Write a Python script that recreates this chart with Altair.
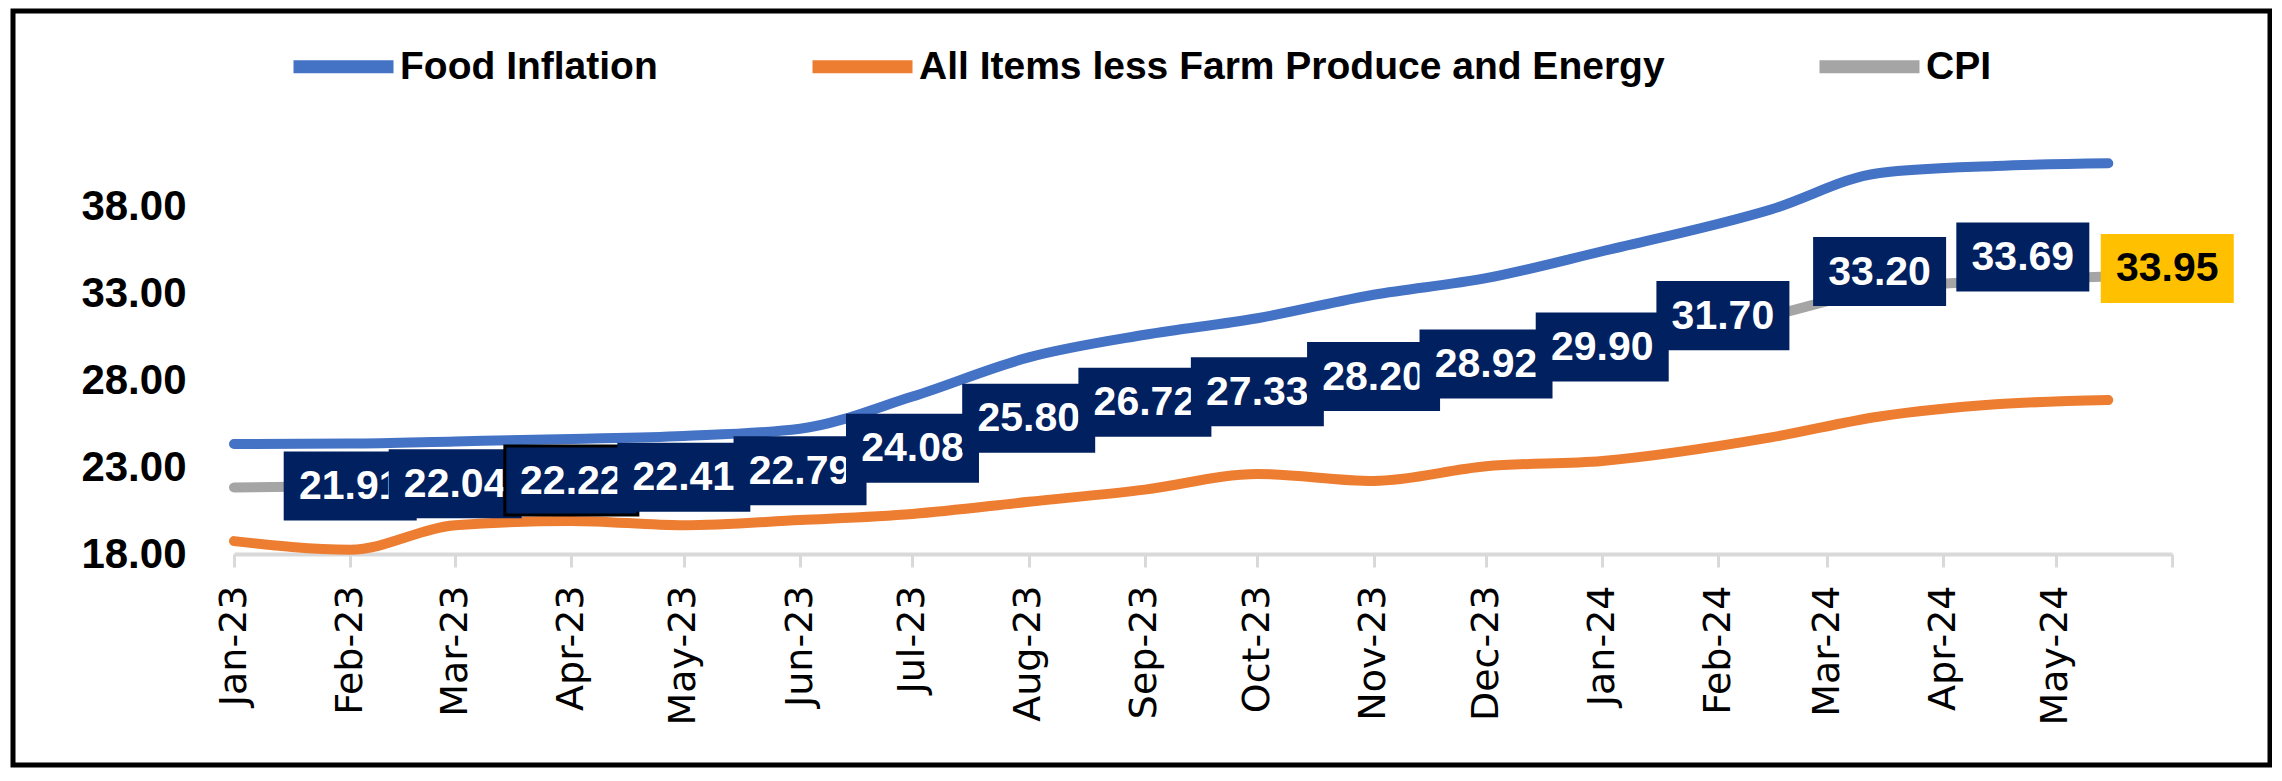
import altair as alt
import pandas as pd

# ---- data ----
dates = [
    "2023-01-01T00:00:00", "2023-02-01T00:00:00", "2023-03-01T00:00:00",
    "2023-04-01T00:00:00", "2023-05-01T00:00:00", "2023-06-01T00:00:00",
    "2023-07-01T00:00:00", "2023-08-01T00:00:00", "2023-09-01T00:00:00",
    "2023-10-01T00:00:00", "2023-11-01T00:00:00", "2023-12-01T00:00:00",
    "2024-01-01T00:00:00", "2024-02-15T00:00:00", "2024-03-15T00:00:00",
    "2024-04-15T00:00:00", "2024-05-15T00:00:00",
]
food = [24.32, 24.35, 24.47, 24.61, 24.78, 25.20, 27.05, 29.30, 30.60, 31.55,
        32.90, 33.85, 35.40, 37.80, 39.90, 40.30, 40.45]
core = [18.74, 18.25, 19.65, 19.90, 19.65, 19.95, 20.30, 21.00, 21.70, 22.60,
        22.20, 23.04, 23.35, 24.70, 25.90, 26.60, 26.85]
cpi = [21.82, 21.91, 22.04, 22.22, 22.41, 22.79, 24.08, 25.80, 26.72, 27.33,
       28.20, 28.92, 29.90, 31.70, 33.20, 33.69, 33.95]

series_names = ["Food Inflation", "All Items less Farm Produce and Energy", "CPI"]
series_colors = ["#4472C4", "#ED7D31", "#A5A5A5"]

tick_dates = [
    (2023, 1), (2023, 2), (2023, 3), (2023, 4), (2023, 5), (2023, 6),
    (2023, 7), (2023, 8), (2023, 9), (2023, 10), (2023, 11), (2023, 12),
    (2024, 1), (2024, 2), (2024, 3), (2024, 4), (2024, 5), (2024, 6),
]
y_ticks = [18, 23, 28, 33, 38]
y_domain = [18, 43]

# ---- tables ----
rows = []
for name, vals in zip(series_names, [food, core, cpi]):
    for d, v in zip(dates, vals):
        rows.append({"date": d, "value": v, "series": name})
df = pd.DataFrame(rows)

lab_df = pd.DataFrame({
    "date": dates,
    "value": cpi,
    "text": [f"{v:.2f}" for v in cpi],
    "idx": list(range(len(cpi))),
})

tick_dt = [alt.DateTime(year=y, month=m, date=1) for y, m in tick_dates]

x_enc = alt.X(
    "date:T",
    scale=alt.Scale(domain=[tick_dt[0], tick_dt[-1]], nice=False),
    axis=alt.Axis(
        values=tick_dt, format="%b-%y",
        labelExpr="datum.label == 'Jun-24' ? '' : datum.label",
        labelAngle=270, labelFont="DejaVu Sans", labelFontSize=38,
        labelColor="black", labelPadding=18, labelOverlap=False,
        labelFlush=False, labelBound=False,
        domainColor="#D9D9D9", domainWidth=4,
        tickColor="#D9D9D9", tickWidth=3, tickSize=13,
        grid=False, title=None,
    ),
)
y_enc = alt.Y(
    "value:Q",
    scale=alt.Scale(domain=y_domain, nice=False, zero=False),
    axis=alt.Axis(
        values=y_ticks, format=".2f", labelFont="Liberation Sans",
        labelFontWeight="bold", labelFontSize=42, labelColor="black",
        labelPadding=48, domain=False, ticks=False, grid=False, title=None,
    ),
)

frame = alt.Chart(pd.DataFrame({"a": [0]})).mark_rect(
    fillOpacity=0, stroke="black", strokeWidth=5
).encode(
    x=alt.value(-221), x2=alt.value(2036), y=alt.value(-108), y2=alt.value(646)
)

lines = alt.Chart(df).mark_line(
    strokeWidth=10, strokeCap="round", interpolate="monotone"
).encode(
    x=x_enc,
    y=y_enc,
    color=alt.Color(
        "series:N",
        scale=alt.Scale(domain=series_names, range=series_colors),
        legend=alt.Legend(title=None),
    ),
    detail="series:N",
)

BOX = "M-1,-0.519L1,-0.519L1,0.519L-1,0.519Z"
offsets = {13: (-48, 0), 14: (0, -18), 15: (27, -24), 16: (59, -8)}

label_layers = []
for i in range(1, len(cpi)):
    dx, dy = offsets.get(i, (0, 0))
    last = i == len(cpi) - 1
    fill = "#FFC000" if last else "#002060"
    tcol = "black" if last else "white"
    box_kw = dict(stroke="black", strokeWidth=3) if i == 3 else dict(strokeWidth=0)
    base = alt.Chart(lab_df).transform_filter(alt.datum.idx == i)
    box = base.mark_point(
        shape=BOX, size=133 * 133, filled=True, fill=fill, opacity=1,
        xOffset=dx, yOffset=dy, **box_kw
    ).encode(x="date:T", y="value:Q")
    txt = base.mark_text(
        font="Liberation Sans", fontWeight="bold", fontSize=41, color=tcol,
        align="center", baseline="middle", dx=dx, dy=dy + 1,
    ).encode(x="date:T", y="value:Q", text="text:N")
    label_layers += [box, txt]

chart = alt.layer(frame, lines, *label_layers).properties(
    width=1938, height=435,
    padding={"left": 226, "top": 111, "right": 100, "bottom": 214},
    autosize=alt.AutoSizeParams(type="none"),
    background="white",
).configure_view(stroke=None).configure_legend(
    orient="none", legendX=53, legendY=-109, direction="horizontal",
    symbolType="stroke", symbolSize=10000, symbolStrokeWidth=13,
    labelFont="Liberation Sans", labelFontWeight="bold", labelFontSize=39,
    labelColor="black", labelLimit=2000, labelOffset=0, columnPadding=128,
)

chart.save("out.html", embed_options={"renderer": "svg", "actions": False})
